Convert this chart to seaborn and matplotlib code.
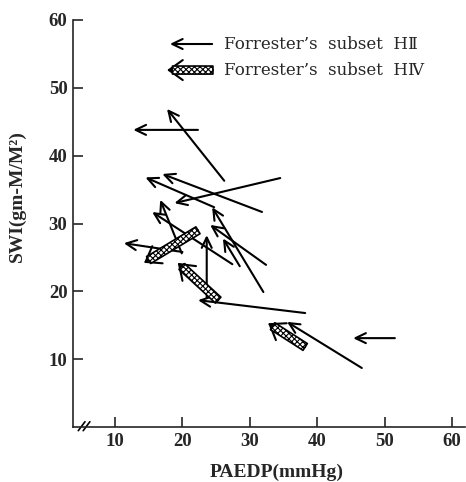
import matplotlib
matplotlib.use("Agg")
import matplotlib.pyplot as plt
from matplotlib.patches import FancyArrowPatch
import seaborn as sns

# Forrester subset HII: each arrow runs from the first measurement to the second
hii_pre_x = [22.3, 26.2, 34.5, 24.7, 31.8, 19.9, 27.4, 32.0, 23.6, 32.4, 28.5, 20.0, 38.2, 46.6, 51.5]
hii_pre_y = [43.8, 36.3, 36.7, 32.4, 31.7, 25.6, 24.0, 19.9, 19.0, 23.9, 23.7, 25.8, 16.8, 8.7, 13.1]
hii_post_x = [12.7, 17.7, 18.8, 14.5, 17.0, 16.7, 15.5, 24.4, 23.6, 24.1, 26.0, 11.3, 22.3, 35.5, 45.3]
hii_post_y = [43.8, 46.9, 33.0, 36.8, 37.3, 33.5, 31.7, 32.4, 28.3, 29.8, 27.8, 27.1, 18.7, 15.5, 13.1]

# Forrester subset HIV
hiv_pre_x = [22.3, 25.3, 38.2]
hiv_pre_y = [29.0, 18.7, 11.8]
hiv_post_x = [14.3, 19.3, 32.7]
hiv_post_y = [24.2, 24.2, 15.3]

x_ticks = [10, 20, 30, 40, 50, 60]
y_ticks = [10, 20, 30, 40, 50, 60]
legend_labels = ["Forrester\u2019s  subset  H\u2161", "Forrester\u2019s  subset  H\u2163"]

sns.set_style("ticks")
plt.rcParams["font.family"] = ["Liberation Serif", "DejaVu Serif"]
plt.rcParams["hatch.linewidth"] = 0.8

fig = plt.figure(figsize=(4.66, 4.82), dpi=100)
ax = fig.add_axes([73 / 466, 55 / 482, 392 / 466, 407 / 482])
ax.set_xlim(3.77, 61.9)
ax.set_ylim(0, 60)

LW = 1.5


def thin_arrow(p0, p1, transform=None):
    kw = {} if transform is None else {"transform": transform}
    ax.add_patch(FancyArrowPatch(
        p0, p1, arrowstyle="->,head_length=0.75,head_width=0.36",
        mutation_scale=10, lw=LW, color="black", shrinkA=0, shrinkB=0,
        capstyle="round", joinstyle="miter", zorder=3, **kw))


def wide_arrow(p0, p1, transform=None):
    kw = {} if transform is None else {"transform": transform}
    # open chevron head (its shaft is hidden under the hatched band)
    ax.add_patch(FancyArrowPatch(
        p0, p1, arrowstyle="->,head_length=1.0,head_width=0.72",
        mutation_scale=10, lw=LW, color="black", shrinkA=0, shrinkB=0,
        zorder=4, **kw))
    # hatched band
    ax.add_patch(FancyArrowPatch(
        p0, p1, arrowstyle="simple,head_length=0.01,head_width=0.58,tail_width=0.58",
        mutation_scale=10, lw=1.2, facecolor="white", edgecolor="black",
        hatch="xxxxxx", shrinkA=0, shrinkB=3.8, zorder=5, **kw))


for x0, y0, x1, y1 in zip(hii_pre_x, hii_pre_y, hii_post_x, hii_post_y):
    thin_arrow((x0, y0), (x1, y1))

for x0, y0, x1, y1 in zip(hiv_pre_x, hiv_pre_y, hiv_post_x, hiv_post_y):
    wide_arrow((x0, y0), (x1, y1))

# key
thin_arrow((0.355, 0.941), (0.247, 0.941), transform=ax.transAxes)
wide_arrow((0.357, 0.877), (0.240, 0.877), transform=ax.transAxes)
for yy, lab in zip([0.941, 0.877], legend_labels):
    ax.text(0.385, yy, lab, transform=ax.transAxes, ha="left", va="center",
            fontsize=12, family=["DejaVu Serif", "DejaVu Sans", "Noto Sans CJK JP"])

# axes styling
ax.set_xticks(x_ticks)
ax.set_yticks(y_ticks)
for s in ("top", "right"):
    ax.spines[s].set_visible(False)
for s in ("left", "bottom"):
    ax.spines[s].set_linewidth(1.2)
ax.tick_params(direction="in", length=7, width=1.2, labelsize=13.5, pad=4)
for lab in ax.get_xticklabels() + ax.get_yticklabels():
    lab.set_fontweight("bold")

# axis break mark near the origin
for dx in (0.0, 0.0125):
    ax.plot([0.0135 + dx, 0.0306 + dx], [-0.009, 0.013], color="black", lw=1.2,
            transform=ax.transAxes, clip_on=False)

fig.text(277 / 466, 1 - 472 / 482, "PAEDP(mmHg)", ha="center", va="center",
         fontsize=14, fontweight="bold")
fig.text(17 / 466, 1 - 196 / 482, "SWI(gm-M/M\u00b2)", ha="center", va="center",
         rotation=90, fontsize=14, fontweight="bold")

fig.savefig("out.png", dpi=100)
